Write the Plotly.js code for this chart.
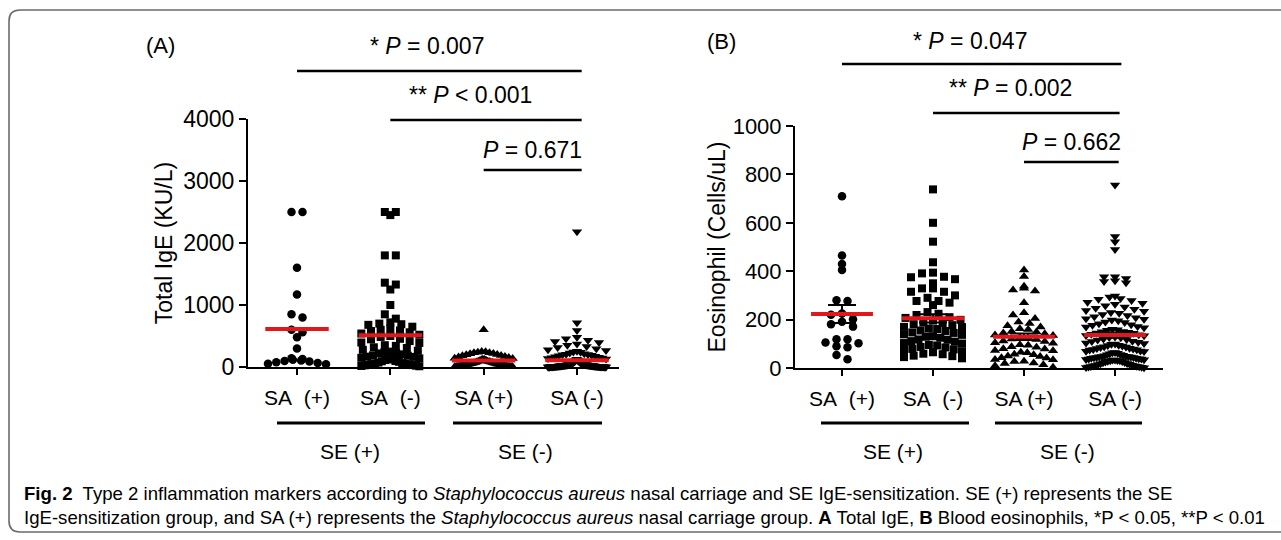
<!DOCTYPE html>
<html>
<head>
<meta charset="utf-8">
<script src="https://cdn.plot.ly/plotly-3.0.1.min.js"></script>
<style>html,body{margin:0;padding:0;background:#fff;}#chart{width:1281px;height:540px;}</style>
</head>
<body>
<div id="chart"></div>
<script>
// ---------------- DATA ----------------
const groupLabels = ["SA\u00a0\u00a0(+)", "SA\u00a0\u00a0(-)", "SA (+)", "SA (-)"];
const seLabels = ["SE (+)", "SE (-)"];
const igeTicks = [0, 1000, 2000, 3000, 4000];
const eosTicks = [0, 200, 400, 600, 800, 1000];

// Panel A: Total IgE (KU/L)
const ige_sePos_saPos = [2500, 2500, 1600, 1170, 850, 800, 600, 560, 480, 300, 140, 130, 118, 105, 96, 88, 75, 64, 52, 45];
const ige_sePos_saNeg = [2500, 2450, 2500, 1800, 1800, 1360, 1330, 1250, 1000, 850, 780, 720, 700, 690, 680, 650, 620, 600, 590, 580, 560, 540, 520, 500,
  485, 455, 447, 418, 395, 388, 352, 341, 318, 306, 277, 262, 248, 243, 226, 219, 204, 188, 182, 167, 163, 148, 139, 128, 122, 113, 97, 92, 84, 72,
  63, 58, 51, 46, 39, 36, 31, 27, 22, 17, 12];
const ige_seNeg_saPos = [600, 252, 244, 239, 231, 228, 217, 214, 203, 198, 186, 181, 170, 161, 152, 141, 137, 126, 121, 116, 107, 102, 94, 91, 87, 81,
  79, 73, 71, 65, 63, 57, 56, 51, 49, 44, 43, 39, 37, 34, 33, 29, 27, 24, 23, 19, 18, 15, 13, 11, 10, 8, 7, 5, 4];
const ige_seNeg_saNeg = [2180, 715, 590, 480, 455, 430, 410, 395, 370, 350, 330, 315, 295, 280, 268, 255, 243, 236, 224, 215, 207, 201, 196, 188, 180,
  172, 166, 158, 150, 144, 137, 130, 124, 118, 112, 106, 101,
  96, 92, 89, 84, 81, 78, 73, 71, 66, 64, 61, 59, 56, 53, 52, 49, 48, 46, 44, 43, 41, 40, 39, 38, 36, 35, 35, 34, 33, 32,
  31, 30, 29, 29, 28, 27, 27, 26, 25, 25, 24, 23, 23, 22, 21, 21, 20, 19, 19, 18, 18, 17, 16, 16, 15, 15, 14, 14, 13, 13,
  12, 12, 11, 11, 10, 10, 9, 9, 8, 8, 7, 7, 6, 6, 6, 5, 5, 5, 4, 4, 4, 3, 3, 3, 3, 2, 2, 2, 2, 1, 1, 1, 1];

// Panel B: Eosinophil (Cells/uL)
const eos_sePos_saPos = [710, 465, 430, 405, 280, 277, 225, 220, 201, 191, 181, 171, 119, 119, 105, 102, 90, 86, 54, 36];
const eos_sePos_saNeg = [738, 600, 522, 437, 394, 391, 377, 375, 367, 350, 329, 329, 315, 315, 300, 290, 277, 277, 270, 260,
  231, 224, 219, 210, 207, 199, 196, 188, 186, 181, 177, 170, 169, 163, 161, 155, 153, 147, 145, 139, 137, 131, 129, 125, 118,
  117, 111, 109, 103, 101, 95, 93, 87, 85, 79, 77, 71, 69, 65, 59, 57, 51, 49, 45, 40];
const eos_seNeg_saPos = [405, 378, 338, 330, 322, 318, 270, 228, 219, 205,
  190, 184, 175, 169, 162, 159, 151, 149, 145, 142, 136, 134, 127, 125, 120, 118, 112, 110, 104, 102, 96, 94, 88, 86, 80,
  78, 72, 71, 65, 63, 57, 55, 50, 48, 42, 41, 35, 34, 28, 27, 21, 19, 13, 9, 3];
const eos_seNeg_saNeg = [756, 543, 522, 490, 377, 377, 370, 361, 357, 352,
  298, 293, 287, 284, 279, 272, 268, 263, 257, 252,
  247, 243, 238, 234, 229, 226, 221, 217, 212, 208, 204, 201,
  198, 195, 190, 188, 183, 179, 177, 171, 169, 166, 160, 158, 156, 151, 150,
  148, 145, 144, 139, 137, 134, 133, 128, 126, 125, 120, 118, 116, 111, 110, 106, 103, 101,
  99, 98, 94, 93, 91, 88, 87, 85, 82, 81, 79, 76, 75, 74, 70, 69, 68, 64, 63, 61, 59, 56, 55, 53, 51,
  49, 48, 48, 46, 45, 43, 43, 42, 40, 40, 38, 37, 37, 35, 34, 33, 33, 31, 30, 30, 28, 27, 25, 23, 22, 19, 18, 15, 14, 11,
  10, 9, 9, 7, 6, 5, 4, 3, 2, 1];

const pA = {eq: "* <i>P</i> = 0.007", lt: "** <i>P</i> &lt; 0.001", ns: "<i>P</i> = 0.671"};
const pB = {eq: "* <i>P</i> = 0.047", lt: "** <i>P</i> = 0.002", ns: "<i>P</i> = 0.662"};

// ---------------- LAYOUT HELPERS ----------------
const W = 1281, H = 540;
const fx = px => px / W;
const fy = py => 1 - py / H;
const MAIN = "'Liberation Sans', Arial, Helvetica, sans-serif";

const panA = {xdom: [fx(248), fx(619)], ydom: [fy(367), fy(119)], xr: [0.475, 4.45], yr: [0, 4000]};
const panB = {xdom: [fx(795), fx(1163)], ydom: [fy(368), fy(126)], xr: [0.4835, 4.527], yr: [0, 1000]};

function pxPer(p) {
  return {
    x: (p.xdom[1] - p.xdom[0]) * W / (p.xr[1] - p.xr[0]),
    y: (p.ydom[1] - p.ydom[0]) * H / (p.yr[1] - p.yr[0])
  };
}

// GraphPad-like scatter-dot arrangement: values within one row band sit side by side
function swarm(values, center, p, gapPx, halfPx, rowPx) {
  const s = pxPer(p);
  const rows = {};
  values.forEach((v, i) => {
    const r = Math.floor(v * s.y / rowPx);
    (rows[r] = rows[r] || []).push(i);
  });
  const xs = new Array(values.length);
  Object.keys(rows).forEach(k => {
    const idx = rows[k].slice().sort((a, b) => values[b] - values[a]);
    const n = idx.length;
    const sp = n > 1 ? Math.min(gapPx, 2 * halfPx / (n - 1)) : 0;
    const offs = [];
    for (let j = 0; j < n; j++) offs.push((j - (n - 1) / 2) * sp);
    offs.sort((a, b) => Math.abs(a) - Math.abs(b) || a - b);
    idx.forEach((i, j) => { xs[i] = center + offs[j] / s.x; });
  });
  return xs;
}
const mean = a => a.reduce((s, v) => s + v, 0) / a.length;
const sem = a => { const m = mean(a); return Math.sqrt(a.reduce((s, v) => s + (v - m) * (v - m), 0) / (a.length - 1) / a.length); };

const symbols = ["circle", "square", "triangle-up", "triangle-down"];
const sizes = [8.5, 8, 9, 9];
const RED = "#e3161c";

const traces = [];
function addPanel(groups, p, xa, ya, withErr) {
  groups.forEach((g, i) => {
    const c = i + 1;
    traces.push({
      type: "scatter", mode: "markers", x: swarm(g, c, p, 11, 29, 8), y: g, xaxis: xa, yaxis: ya,
      marker: {symbol: symbols[i], size: sizes[i], color: "#000", line: {width: 0}},
      cliponaxis: false, hoverinfo: "y"
    });
  });
  groups.forEach((g, i) => {
    const c = i + 1, m = mean(g);
    if (withErr) {
      traces.push({
        type: "scatter", mode: "markers", x: [c], y: [m], xaxis: xa, yaxis: ya,
        marker: {size: 1, opacity: 0}, cliponaxis: false,
        error_y: {type: "data", array: [sem(g)], color: "#000", thickness: 2, width: 14}
      });
    }
    traces.push({
      type: "scatter", mode: "lines", x: [c - 0.34, c + 0.34], y: [m, m], xaxis: xa, yaxis: ya,
      line: {color: RED, width: 4}, cliponaxis: false, hoverinfo: "skip"
    });
  });
}
addPanel([ige_sePos_saPos, ige_sePos_saNeg, ige_seNeg_saPos, ige_seNeg_saNeg], panA, "x", "y", false);
addPanel([eos_sePos_saPos, eos_sePos_saNeg, eos_seNeg_saPos, eos_seNeg_saNeg], panB, "x2", "y2", true);

function xAxis(p, anchor) {
  return {
    domain: p.xdom, range: p.xr, anchor: anchor, tickvals: [1, 2, 3, 4], ticktext: groupLabels,
    ticks: "outside", ticklen: 6, tickwidth: 2, tickcolor: "#000", showline: true, linewidth: 2, linecolor: "#000",
    showgrid: false, zeroline: false, ticklabelstandoff: 5,
    tickfont: {family: MAIN, size: 21, color: "#000"}
  };
}
function yAxis(p, anchor, ticks, title, fs, standoff) {
  return {
    domain: p.ydom, range: p.yr, anchor: anchor, tickvals: ticks,
    ticks: "outside", ticklen: 7, tickwidth: 2, tickcolor: "#000", showline: true, linewidth: 2, linecolor: "#000",
    showgrid: false, zeroline: false,
    tickfont: {family: MAIN, size: fs, color: "#000"},
    title: {text: title, font: {family: MAIN, size: 23, color: "#000"}, standoff: standoff}
  };
}

const shapes = [];
const annotations = [];
function hline(xref, x0, x1, ypx, w) {
  shapes.push({type: "line", xref: xref, yref: "paper", x0: x0, x1: x1, y0: fy(ypx), y1: fy(ypx), line: {color: "#000", width: w || 2.5}});
}
function hlinePx(x0, x1, ypx) {
  shapes.push({type: "line", xref: "paper", yref: "paper", x0: fx(x0), x1: fx(x1), y0: fy(ypx), y1: fy(ypx), line: {color: "#000", width: 3}});
}
function txt(text, xpx, ypx, size, family, anchor) {
  annotations.push({text: text, xref: "paper", yref: "paper", x: fx(xpx), y: fy(ypx), xanchor: anchor || "center", yanchor: "middle",
    showarrow: false, font: {family: family || MAIN, size: size, color: "#000"}});
}

// significance brackets, panel A
hline("x", 1.0, 4.05, 71);
hline("x", 2.0, 4.05, 120);
hline("x", 3.0, 4.05, 170);
txt(pA.eq, 427, 46, 23);
txt(pA.lt, 470, 95, 23);
txt(pA.ns, 532, 150, 23);
txt("(A)", 160, 46, 22);
// panel B
hline("x2", 1.0, 4.07, 64);
hline("x2", 2.0, 4.05, 113);
hline("x2", 3.0, 4.04, 162);
txt(pB.eq, 970, 41, 23);
txt(pB.lt, 1010, 88, 23);
txt(pB.ns, 1071, 142, 23);
txt("(B)", 721, 41, 22);

// SE grouping lines and labels
hlinePx(277, 425, 423); hlinePx(453, 602, 423);
hlinePx(821, 969, 423); hlinePx(995, 1142, 423);
txt(seLabels[0], 350, 451, 21); txt(seLabels[1], 525, 451, 21);
txt(seLabels[0], 893, 451, 21); txt(seLabels[1], 1067, 451, 21);

// caption
txt("<b>Fig. 2</b>  Type 2 inflammation markers according to <i>Staphylococcus aureus</i> nasal carriage and SE IgE-sensitization. SE (+) represents the SE", 22, 493, 18.6, MAIN, "left");
txt("IgE-sensitization group, and SA (+) represents the <i>Staphylococcus aureus</i> nasal carriage group. <b>A</b> Total IgE, <b>B</b> Blood eosinophils, *P &lt; 0.05, **P &lt; 0.01", 22, 517, 18.6, MAIN, "left");

// rounded frame
const bx = fx(9), bt = fy(10), bb = fy(532), rx = 11 / W, ry = 11 / H;
shapes.push({type: "path", xref: "paper", yref: "paper",
  path: `M 1.02 ${bt} L ${bx + rx} ${bt} Q ${bx} ${bt} ${bx} ${bt - ry} L ${bx} ${bb + ry} Q ${bx} ${bb} ${bx + rx} ${bb} L 1.02 ${bb}`,
  line: {color: "#6b6b6b", width: 1.6}});

const layout = {
  width: W, height: H, margin: {l: 0, r: 0, t: 0, b: 0}, paper_bgcolor: "#fff", plot_bgcolor: "rgba(0,0,0,0)",
  showlegend: false,
  xaxis: xAxis(panA, "y"), yaxis: yAxis(panA, "x", igeTicks, "Total IgE (KU/L)", 23, 4),
  xaxis2: xAxis(panB, "y2"), yaxis2: yAxis(panB, "x2", eosTicks, "Eosinophil (Cells/uL)", 22, 1),
  shapes: shapes, annotations: annotations
};
Plotly.newPlot("chart", traces, layout, {staticPlot: true, displayModeBar: false});
</script>
</body>
</html>
